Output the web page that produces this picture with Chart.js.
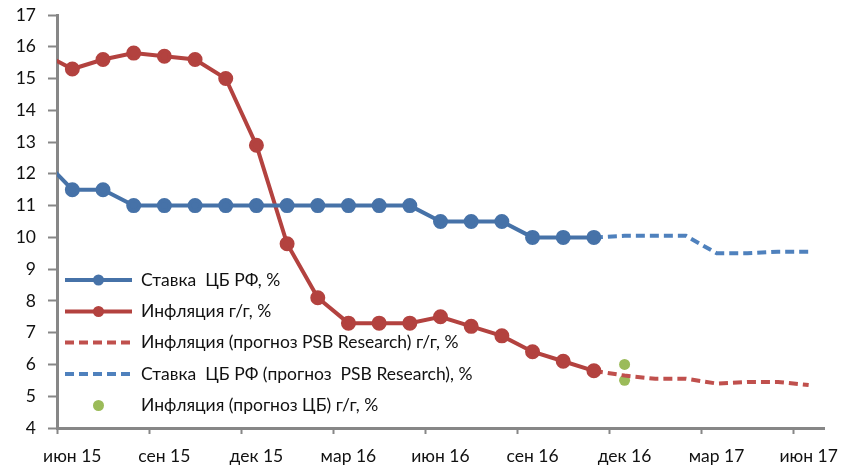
<!DOCTYPE html>
<html>
<head>
<meta charset="utf-8">
<script src="https://cdn.jsdelivr.net/npm/chart.js@4/dist/chart.umd.min.js"></script>
<style>
html,body{margin:0;padding:0;background:#fff;}
#wrap{width:861px;height:467px;}
</style>
</head>
<body>
<div id="wrap"><canvas id="chart" width="861" height="467"></canvas></div>
<script>
// months from май 15 (index 0) to июн 17 (index 25)
const tickLabels = ["июн 15","сен 15","дек 15","мар 16","июн 16","сен 16","дек 16","мар 17","июн 17"];

const keyRate = [12.5,11.5,11.5,11,11,11,11,11,11,11,11,11,11,10.5,10.5,10.5,10,10,10];
const inflation = [15.8,15.3,15.6,15.8,15.7,15.6,15.0,12.9,9.8,8.1,7.3,7.3,7.3,7.5,7.2,6.9,6.4,6.1,5.8];
const forecastStart = 18; // ноя 16
const inflationPSB = [5.8,5.65,5.55,5.55,5.4,5.45,5.45,5.35];
const keyRatePSB = [10,10.05,10.05,10.05,9.5,9.5,9.55,9.55];
const cbIdx = 19;
const inflationCB = [6.0,5.5];

const names = [
    "Ставка  ЦБ РФ, %",
    "Инфляция г/г, %",
    "Инфляция (прогноз PSB Research) г/г, %",
    "Ставка  ЦБ РФ (прогноз  PSB Research), %",
    "Инфляция (прогноз ЦБ) г/г, %"
];

const blue = "#4672A8", red = "#B3423F", blueL = "#4F81BD", redL = "#C0504D", green = "#9BBB59";
const axisGray = "#878787";
const FONT = "Lato, 'DejaVu Sans', sans-serif";
const FSIZE = 17.5;

function pts(arr, start){
    return arr.map((v,i)=>({x:start+i, y:v}));
}

const legendPlugin = {
    id: "legendInside",
    afterDatasetsDraw(chart){
        const ctx = chart.ctx;
        const rows = [280, 311.5, 342.5, 374, 405.5];
        ctx.save();
        chart.data.datasets.forEach((ds, i)=>{
            const y = rows[i];
            if(ds.showLine !== false){
                ctx.beginPath();
                ctx.strokeStyle = ds.borderColor;
                ctx.lineWidth = ds.borderWidth;
                ctx.setLineDash(ds.borderDash || []);
                ctx.moveTo(65, y);
                ctx.lineTo(132, y);
                ctx.stroke();
                ctx.setLineDash([]);
            }
            if(ds.pointRadius > 0){
                ctx.beginPath();
                ctx.fillStyle = ds.pointBackgroundColor;
                ctx.arc(98.5, y, ds.pointRadius, 0, Math.PI*2);
                ctx.fill();
            }
            ctx.fillStyle = "#111";
            ctx.font = FSIZE + "px " + FONT;
            ctx.textBaseline = "middle";
            ctx.fillText(names[i], 141, y);
        });
        ctx.restore();
    }
};

new Chart(document.getElementById("chart").getContext("2d"), {
    type: 'line',
    data: {
        datasets: [
            {
                data: pts(keyRate, 0),
                borderColor: blue, backgroundColor: blue,
                pointBackgroundColor: blue, pointBorderColor: blue,
                borderWidth: 4, pointRadius: 5.5, clip: 0
            },
            {
                data: pts(inflation, 0),
                borderColor: red, backgroundColor: red,
                pointBackgroundColor: red, pointBorderColor: red,
                borderWidth: 4, pointRadius: 5.5, clip: 0
            },
            {
                data: pts(inflationPSB, forecastStart),
                borderColor: redL, borderDash: [9,5],
                borderWidth: 4, pointRadius: 0, clip: 0
            },
            {
                data: pts(keyRatePSB, forecastStart),
                borderColor: blueL, borderDash: [9,5],
                borderWidth: 4, pointRadius: 0, clip: 0
            },
            {
                data: inflationCB.map(v=>({x:cbIdx, y:v})),
                showLine: false,
                borderColor: green, backgroundColor: green,
                pointBackgroundColor: green, pointBorderColor: green,
                borderWidth: 0, pointRadius: 5.5, clip: 0
            }
        ]
    },
    options: {
        responsive: false,
        animation: false,
        layout: { padding: { left: 0, right: 37, top: 15, bottom: 0 } },
        plugins: { legend: { display: false }, tooltip: { enabled: false } },
        elements: { line: { tension: 0 } },
        scales: {
            x: {
                type: 'linear',
                min: 0.5, max: 25.5,
                afterBuildTicks(scale){
                    scale.ticks = tickLabels.map((_, k)=>({value: 0.5 + 3*k}));
                },
                afterFit(scale){ scale.height = 39; scale.paddingLeft = 0; scale.paddingRight = 0; },
                ticks: {
                    callback: (v, i)=>tickLabels[i],
                    labelOffset: 15.3,
                    autoSkip: false, maxRotation: 0,
                    padding: 12,
                    color: "#111",
                    font: { family: FONT, size: FSIZE }
                },
                grid: { drawOnChartArea: false, drawTicks: true, tickLength: 6, tickColor: axisGray, tickWidth: 2 },
                border: { display: true, color: axisGray, width: 3 }
            },
            y: {
                min: 4, max: 17,
                afterFit(scale){ scale.width = 57; scale.paddingTop = 0; scale.paddingBottom = 0; },
                ticks: {
                    stepSize: 1,
                    padding: 12,
                    color: "#111",
                    font: { family: FONT, size: FSIZE }
                },
                grid: { drawOnChartArea: false, drawTicks: true, tickLength: 9, tickColor: axisGray, tickWidth: 2 },
                border: { display: true, color: axisGray, width: 3 }
            }
        }
    },
    plugins: [legendPlugin]
});
</script>
</body>
</html>
